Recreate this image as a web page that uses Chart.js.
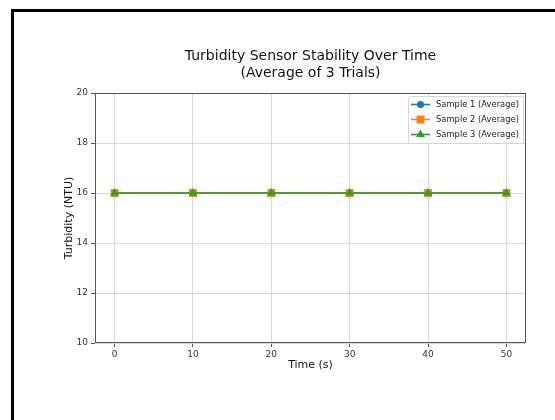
<!DOCTYPE html>
<html>
<head>
<meta charset="utf-8">
<script src="https://cdn.jsdelivr.net/npm/chart.js@4"></script>
<style>
  html, body { margin: 0; padding: 0; background: #fff; }
  #wrap { position: relative; width: 555px; height: 420px; overflow: hidden; }
  #frame { position: absolute; left: 11px; top: 9px; width: 600px; height: 500px;
           border-top: 3px solid #000; border-left: 3px solid #000; pointer-events: none; }
</style>
</head>
<body>
<div id="wrap">
  <canvas id="chart" width="555" height="420"></canvas>
  <div id="frame"></div>
</div>
<script>
// Data
const times = [0, 10, 20, 30, 40, 50];
const sample1 = [16, 16, 16, 16, 16, 16];
const sample2 = [16, 16, 16, 16, 16, 16];
const sample3 = [16, 16, 16, 16, 16, 16];
const seriesLabels = ['Sample 1 (Average)', 'Sample 2 (Average)', 'Sample 3 (Average)'];
const titleLines = ['Turbidity Sensor Stability Over Time', '(Average of 3 Trials)'];

const FONT = "'DejaVu Sans', sans-serif";
const colors = ['#1f77b4', '#ff7f0e', '#2ca02c'];
const markers = ['circle', 'rect', 'triangle'];
const markerRadius = [3.6, 5.6, 5];

function toPoints(vals) {
    return times.map((t, i) => ({ x: t, y: vals[i] }));
}

// later samples drawn on top, like the reference
const datasets = [sample1, sample2, sample3].map((vals, i) => ({
    label: seriesLabels[i],
    data: toPoints(vals),
    borderColor: colors[i],
    backgroundColor: colors[i],
    borderWidth: 1.6,
    pointStyle: markers[i],
    pointRadius: markerRadius[i],
    pointBorderWidth: 0,
    order: 3 - i
}));

// title centred over the plot area, plus the axes box
const framePlugin = {
    id: 'frame',
    afterDraw(chart) {
        const { ctx, chartArea: a } = chart;
        ctx.save();
        ctx.strokeStyle = '#555';
        ctx.lineWidth = 1;
        ctx.strokeRect(a.left + 0.5, a.top + 0.5, a.right - a.left - 1, a.bottom - a.top - 1);

        ctx.fillStyle = '#111';
        ctx.font = '14px ' + FONT;
        ctx.textAlign = 'center';
        ctx.textBaseline = 'middle';
        const cx = (a.left + a.right) / 2;
        ctx.fillText(titleLines[0], cx, 56);
        ctx.fillText(titleLines[1], cx, 73);
        ctx.restore();
    }
};

// matplotlib style legend in the upper right corner
const legendPlugin = {
    id: 'mplLegend',
    afterDraw(chart) {
        const { ctx, chartArea: a } = chart;
        const w = 115, rowH = 15, h = rowH * seriesLabels.length + 2;
        const x0 = a.right - 3 - w, y0 = a.top + 3;
        ctx.save();
        ctx.fillStyle = 'rgba(255,255,255,0.8)';
        ctx.strokeStyle = '#d5d5d5';
        ctx.lineWidth = 1;
        ctx.beginPath();
        ctx.roundRect(x0 + 0.5, y0 + 0.5, w, h, 2);
        ctx.fill();
        ctx.stroke();
        ctx.font = '8.4px ' + FONT;
        ctx.textBaseline = 'middle';
        seriesLabels.forEach((lab, i) => {
            const y = y0 + 8.5 + i * rowH;
            ctx.strokeStyle = colors[i];
            ctx.lineWidth = 1.6;
            ctx.beginPath();
            ctx.moveTo(x0 + 3, y);
            ctx.lineTo(x0 + 22, y);
            ctx.stroke();
            ctx.fillStyle = colors[i];
            Chart.helpers.drawPoint(ctx, {
                pointStyle: markers[i], radius: markerRadius[i], borderWidth: 0, rotation: 0
            }, x0 + 12.5, y);
            ctx.fillStyle = '#222';
            ctx.fillText(lab, x0 + 28, y);
        });
        ctx.restore();
    }
};

new Chart(document.getElementById('chart'), {
    type: 'line',
    data: { datasets: datasets },
    options: {
        responsive: false,
        animation: false,
        layout: { padding: { left: 55, right: 29, top: 93, bottom: 37 } },
        plugins: { legend: { display: false }, title: { display: false }, tooltip: { enabled: false } },
        scales: {
            x: {
                type: 'linear',
                min: -2.5,
                max: 52.5,
                afterBuildTicks(axis) { axis.ticks = times.map(v => ({ value: v })); },
                afterFit(axis) { axis.height = 40; },
                ticks: { color: '#333', padding: 2, font: { family: FONT, size: 9 } },
                grid: { color: '#d9d9d9', tickColor: '#555', tickLength: 4, lineWidth: 1 },
                border: { display: false },
                title: { display: true, text: 'Time (s)', color: '#111', padding: { top: 0, bottom: 11 },
                         font: { family: FONT, size: 11 } }
            },
            y: {
                min: 10,
                max: 20,
                ticks: { stepSize: 2, color: '#333', padding: 3, font: { family: FONT, size: 9 } },
                afterFit(axis) { axis.width = 40; },
                grid: { color: '#d9d9d9', tickColor: '#555', tickLength: 4, lineWidth: 1 },
                border: { display: false },
                title: { display: true, text: 'Turbidity (NTU)', color: '#111', padding: { top: 8, bottom: 0 },
                         font: { family: FONT, size: 11 } }
            }
        }
    },
    plugins: [framePlugin, legendPlugin]
});
</script>
</body>
</html>
